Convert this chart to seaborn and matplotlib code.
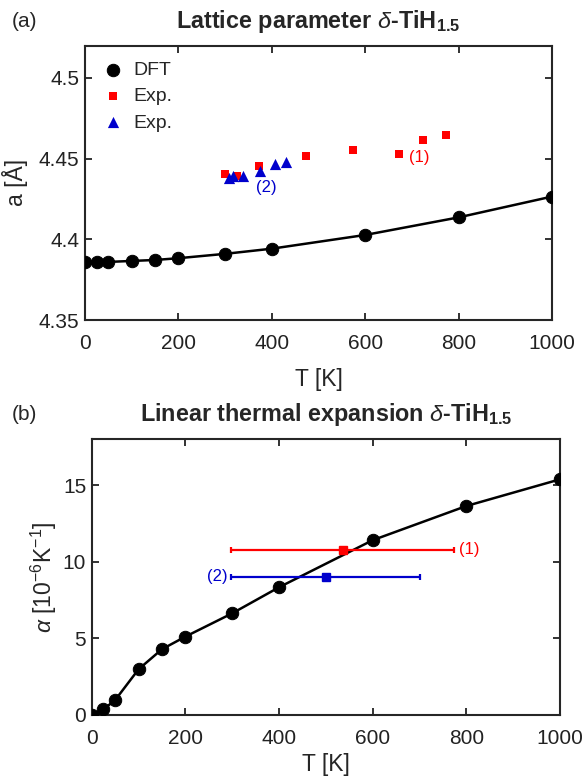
import numpy as np
import pandas as pd
import matplotlib
matplotlib.use("Agg")
import matplotlib.pyplot as plt
import seaborn as sns

# ---- data ----
T_dft = [0, 25, 50, 100, 150, 200, 300, 400, 600, 800, 1000]
a_dft = [4.3857, 4.3857, 4.3860, 4.3866, 4.3872, 4.3883, 4.3910, 4.3942, 4.4027, 4.4136, 4.4265]
T_exp1 = [300, 325, 373, 473, 573, 673, 723, 773]
a_exp1 = [4.4405, 4.4395, 4.4454, 4.4516, 4.4553, 4.4530, 4.4617, 4.4648]
T_exp2 = [309, 316, 339, 375, 407, 431]
a_exp2 = [4.4378, 4.4390, 4.4392, 4.4425, 4.4465, 4.4481]

alpha_dft = [0.0, 0.37, 0.97, 2.98, 4.29, 5.11, 6.63, 8.33, 11.40, 13.63, 15.37]
exp1_T, exp1_alpha, exp1_lo, exp1_hi = 537, 10.78, 298, 773
exp2_T, exp2_alpha, exp2_lo, exp2_hi = 500, 9.0, 298, 700

# ---- style ----
sns.set_style("ticks")
plt.rcParams["font.family"] = ["Liberation Sans", "DejaVu Sans"]
plt.rcParams["mathtext.fontset"] = "custom"
plt.rcParams["mathtext.rm"] = "Liberation Sans"
plt.rcParams["mathtext.it"] = "Liberation Sans:italic"
plt.rcParams["mathtext.bf"] = "Liberation Sans:bold"

fs_tick = 15
fs_lab = 16.5
fs_title = 16.8
fs_leg = 14
fs_note = 12
edge = "#262626"
red = "#ff0000"
blue = "#0000cc"

fig = plt.figure(figsize=(5.85, 7.82), dpi=100)
ax1 = fig.add_axes([85/585, 1-320/782, 467/585, 274.3/782])
ax2 = fig.add_axes([91.7/585, 1-715/782, 468.3/585, 276/782])

def style(ax):
    for s in ax.spines.values():
        s.set_linewidth(1.5)
        s.set_color(edge)
        s.set_visible(True)
    ax.tick_params(direction="in", length=5, width=1.3, top=True, right=True,
                   labelsize=fs_tick, colors="#222222")
    ax.tick_params(axis="y", pad=4)
    ax.tick_params(axis="x", pad=10)

# ---- top panel ----
df_a = pd.DataFrame({"T": T_dft, "a": a_dft})
sns.lineplot(data=df_a, x="T", y="a", ax=ax1, color="black", lw=1.8, zorder=2)
sns.scatterplot(data=df_a, x="T", y="a", ax=ax1, color="black", s=80,
                edgecolor="black", marker="o", zorder=3, label="DFT")
sns.scatterplot(x=T_exp1, y=a_exp1, ax=ax1, color=red, s=36, marker="s",
                edgecolor=red, linewidth=0, zorder=3, label="Exp.")
sns.scatterplot(x=T_exp2, y=a_exp2, ax=ax1, color=blue, s=65, marker="^",
                edgecolor=blue, linewidth=0, zorder=4, label="Exp.")
ax1.set_xlim(0, 1000)
ax1.set_ylim(4.35, 4.52)
ax1.set_xticks([0, 200, 400, 600, 800, 1000])
ax1.set_yticks([4.35, 4.4, 4.45, 4.5])
ax1.set_yticklabels(["4.35", "4.4", "4.45", "4.5"])
ax1.set_xlabel("T [K]", fontsize=fs_lab)
ax1.set_ylabel("a [Å]", fontsize=fs_lab)
ax1.xaxis.set_label_coords(0.5, -0.175)
ax1.yaxis.set_label_coords(-0.122, 0.5)
ax1.set_title(r"Lattice parameter $\delta$-TiH$_{\mathbf{1.5}}$", fontsize=fs_title,
              fontweight="bold", pad=13)
ax1.text(716, 4.451, "(1)", color=red, fontsize=fs_note, ha="center", va="center")
ax1.text(388, 4.432, "(2)", color=blue, fontsize=fs_note, ha="center", va="center")
leg = ax1.legend(loc="upper left", frameon=False, fontsize=fs_leg, handletextpad=0.4,
                 borderaxespad=0.35, labelspacing=0.45, handlelength=1.3,
                 borderpad=0.45)
style(ax1)

# ---- bottom panel ----
df_b = pd.DataFrame({"T": T_dft, "alpha": alpha_dft})
sns.lineplot(data=df_b, x="T", y="alpha", ax=ax2, color="black", lw=1.8, zorder=2)
sns.scatterplot(data=df_b, x="T", y="alpha", ax=ax2, color="black", s=80,
                edgecolor="black", marker="o", zorder=3, legend=False)
ax2.errorbar([exp1_T], [exp1_alpha], xerr=[[exp1_T-exp1_lo], [exp1_hi-exp1_T]],
             fmt="s", color=red, ms=5.5, lw=1.6, capsize=2.5, capthick=1.6, zorder=2)
ax2.errorbar([exp2_T], [exp2_alpha], xerr=[[exp2_T-exp2_lo], [exp2_hi-exp2_T]],
             fmt="s", color=blue, ms=5.5, lw=1.6, capsize=2.5, capthick=1.6, zorder=2)
ax2.text(785, exp1_alpha, "(1)", color=red, fontsize=fs_note, ha="left", va="center")
ax2.text(290, exp2_alpha, "(2)", color=blue, fontsize=fs_note, ha="right", va="center")
ax2.set_xlim(0, 1000)
ax2.set_ylim(0, 18)
ax2.set_xticks([0, 200, 400, 600, 800, 1000])
ax2.set_yticks([0, 5, 10, 15])
ax2.set_xlabel("T [K]", fontsize=fs_lab)
ax2.set_ylabel(r"$\alpha$ [10$^{-6}$K$^{-1}$]", fontsize=fs_lab)
ax2.xaxis.set_label_coords(0.5, -0.138)
ax2.yaxis.set_label_coords(-0.07, 0.5)
ax2.set_title(r"Linear thermal expansion $\delta$-TiH$_{\mathbf{1.5}}$", fontsize=fs_title,
              fontweight="bold", pad=13)
style(ax2)

fig.text(12/585, 1-21.5/782, "(a)", fontsize=15, ha="left", va="center")
fig.text(12/585, 1-415/782, "(b)", fontsize=15, ha="left", va="center")

fig.savefig("out.png", dpi=100)
